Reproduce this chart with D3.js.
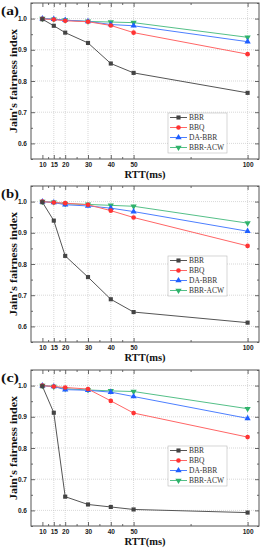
<!DOCTYPE html>
<html>
<head>
<meta charset="utf-8">
<script src="https://cdn.jsdelivr.net/npm/d3@7"></script>
<style>
  body { margin: 0; background: #fff; }
  svg { display: block; font-family: "Liberation Serif", "Times New Roman", serif; }
</style>
</head>
<body>
<svg id="chart" width="266" height="550"></svg>
<script>
// values
const rtt = [10, 15, 20, 30, 40, 50, 100];
const rttMinor = [12.5, 17.5, 25, 35, 45, 75];
const yTicks = [0.6, 0.7, 0.8, 0.9, 1.0];
const yMinor = [0.55, 0.65, 0.75, 0.85, 0.95, 1.05];
const seriesNames = ["BBR", "BBQ", "DA-BBR", "BBR-ACW"];

const bbrA = [0.998, 0.977, 0.955, 0.922, 0.856, 0.826, 0.762];
const bbqA = [0.999, 0.997, 0.993, 0.990, 0.978, 0.955, 0.886];
const daA  = [1.000, 0.998, 0.995, 0.991, 0.981, 0.977, 0.926];
const acwA = [1.000, 0.998, 0.995, 0.991, 0.989, 0.987, 0.940];

const bbrB = [0.998, 0.939, 0.826, 0.758, 0.687, 0.646, 0.612];
const bbqB = [1.000, 0.997, 0.995, 0.990, 0.971, 0.949, 0.858];
const daB  = [1.000, 0.997, 0.990, 0.986, 0.979, 0.968, 0.905];
const acwB = [1.000, 0.998, 0.993, 0.991, 0.988, 0.985, 0.931];

const bbrC = [0.998, 0.913, 0.644, 0.619, 0.611, 0.603, 0.593];
const bbqC = [1.000, 0.997, 0.994, 0.989, 0.951, 0.912, 0.835];
const daC  = [1.000, 0.997, 0.987, 0.985, 0.979, 0.965, 0.895];
const acwC = [1.000, 0.997, 0.990, 0.986, 0.983, 0.981, 0.926];

const panelLabels = ["(a)", "(b)", "(c)"];
const panelData = [[bbrA, bbqA, daA, acwA], [bbrB, bbqB, daB, acwB], [bbrC, bbqC, daC, acwC]];

// layout
const left = 31, right = 259, plotH = 156;
const panelTops = [3, 186, 370];
const legendTops = [110, 70, 76];   // relative to panel top
const colors = ["#444444", "#ff3333", "#1f5fff", "#2fb36b"];
const lineColors = ["#555555", "#ff6666", "#4d7fff", "#55c088"];
const symbols = [d3.symbolSquare, d3.symbolCircle, d3.symbolTriangle, d3.symbolTriangle];
const symSize = 17;

const svg = d3.select("#chart");

const x = d3.scaleLinear().domain([5, 105]).range([left, right]);

panelData.forEach(function(series, p) {
    const top = panelTops[p];
    const y = d3.scaleLinear().domain([0.55, 1.05]).range([top + plotH, top]);
    const g = svg.append("g");

    // dotted grid
    g.append("g").selectAll("line")
        .data(rtt.slice(1))
        .join("line")
        .attr("x1", d => x(d)).attr("x2", d => x(d))
        .attr("y1", top).attr("y2", top + plotH)
        .attr("stroke", "#bdbdbd").attr("stroke-width", 0.6)
        .attr("stroke-dasharray", "1,1");
    g.append("g").selectAll("line")
        .data(yTicks)
        .join("line")
        .attr("x1", left).attr("x2", right)
        .attr("y1", d => y(d)).attr("y2", d => y(d))
        .attr("stroke", "#bdbdbd").attr("stroke-width", 0.6)
        .attr("stroke-dasharray", "1,1");

    // axes with inward ticks
    const bottom = g.append("g")
        .attr("transform", "translate(0," + (top + plotH) + ")")
        .call(d3.axisBottom(x).tickValues(rtt).tickSize(-4).tickPadding(3));
    bottom.selectAll("text").attr("font-size", 6.5).attr("font-weight", "bold").attr("fill", "#222");
    g.append("g")
        .attr("transform", "translate(0," + (top + plotH) + ")")
        .call(d3.axisBottom(x).tickValues(rttMinor).tickSize(-2).tickFormat(""));
    g.append("g")
        .attr("transform", "translate(0," + top + ")")
        .call(d3.axisTop(x).tickValues(rtt).tickSize(-4).tickFormat(""));
    g.append("g")
        .attr("transform", "translate(0," + top + ")")
        .call(d3.axisTop(x).tickValues(rttMinor).tickSize(-2).tickFormat(""));

    const leftAxis = g.append("g")
        .attr("transform", "translate(" + left + ",0)")
        .call(d3.axisLeft(y).tickValues(yTicks).tickFormat(d3.format(".1f")).tickSize(-4).tickPadding(4));
    leftAxis.selectAll("text").attr("font-size", 6.5).attr("font-weight", "bold").attr("fill", "#222");
    g.append("g")
        .attr("transform", "translate(" + left + ",0)")
        .call(d3.axisLeft(y).tickValues(yMinor).tickSize(-2).tickFormat(""));
    g.append("g")
        .attr("transform", "translate(" + right + ",0)")
        .call(d3.axisRight(y).tickValues(yTicks).tickSize(-4).tickFormat(""));
    g.append("g")
        .attr("transform", "translate(" + right + ",0)")
        .call(d3.axisRight(y).tickValues(yMinor).tickSize(-2).tickFormat(""));

    g.selectAll(".domain").remove();
    g.selectAll(".tick line").attr("stroke", "#444").attr("stroke-width", 0.8);

    // frame
    g.append("rect")
        .attr("x", left).attr("y", top)
        .attr("width", right - left).attr("height", plotH)
        .attr("fill", "none").attr("stroke", "#555").attr("stroke-width", 1);

    // lines + markers (BBR drawn last so it sits on top)
    const line = d3.line().x((d, i) => x(rtt[i])).y(d => y(d));
    [3, 2, 1, 0].forEach(function(s) {
        g.append("path")
            .datum(series[s])
            .attr("d", line)
            .attr("fill", "none")
            .attr("stroke", lineColors[s])
            .attr("stroke-width", 1);
        g.append("g").selectAll("path")
            .data(series[s])
            .join("path")
            .attr("d", d3.symbol().type(symbols[s]).size(symSize))
            .attr("transform", (d, i) => "translate(" + x(rtt[i]) + "," + y(d) + ")" + (s === 3 ? " rotate(180)" : ""))
            .attr("fill", colors[s]);
    });

    // titles
    g.append("text")
        .attr("x", (left + right) / 2)
        .attr("y", top + plotH + 19)
        .attr("text-anchor", "middle")
        .attr("font-size", 10.5).attr("font-weight", "bold").attr("fill", "#111")
        .text("RTT(ms)");
    g.append("text")
        .attr("transform", "translate(17," + (top + plotH / 2) + ") rotate(-90)")
        .attr("text-anchor", "middle")
        .attr("font-size", 10.5).attr("font-weight", "bold").attr("fill", "#111")
        .attr("textLength", 104).attr("lengthAdjust", "spacingAndGlyphs")
        .text("Jain's fairness index");
    g.append("text")
        .attr("x", 1).attr("y", top + 11.5)
        .attr("font-size", 13).attr("font-weight", "bold").attr("fill", "#111")
        .attr("textLength", 18).attr("lengthAdjust", "spacingAndGlyphs")
        .text(panelLabels[p]);

    // legend
    const lt = top + legendTops[p];
    const lg = g.append("g");
    lg.append("rect")
        .attr("x", 168).attr("y", lt)
        .attr("width", 59).attr("height", 40)
        .attr("fill", "#fff").attr("stroke", "#bbb").attr("stroke-width", 0.6);
    seriesNames.forEach(function(name, s) {
        const ly = lt + 4.5 + s * 10;
        lg.append("line")
            .attr("x1", 170).attr("x2", 187)
            .attr("y1", ly).attr("y2", ly)
            .attr("stroke", lineColors[s]).attr("stroke-width", 1);
        lg.append("path")
            .attr("d", d3.symbol().type(symbols[s]).size(symSize))
            .attr("transform", "translate(178.5," + ly + ")" + (s === 3 ? " rotate(180)" : ""))
            .attr("fill", colors[s]);
        lg.append("text")
            .attr("x", 189).attr("y", ly + 2.6)
            .attr("font-size", 7.5).attr("fill", "#333")
            .text(name);
    });
});
</script>
</body>
</html>
